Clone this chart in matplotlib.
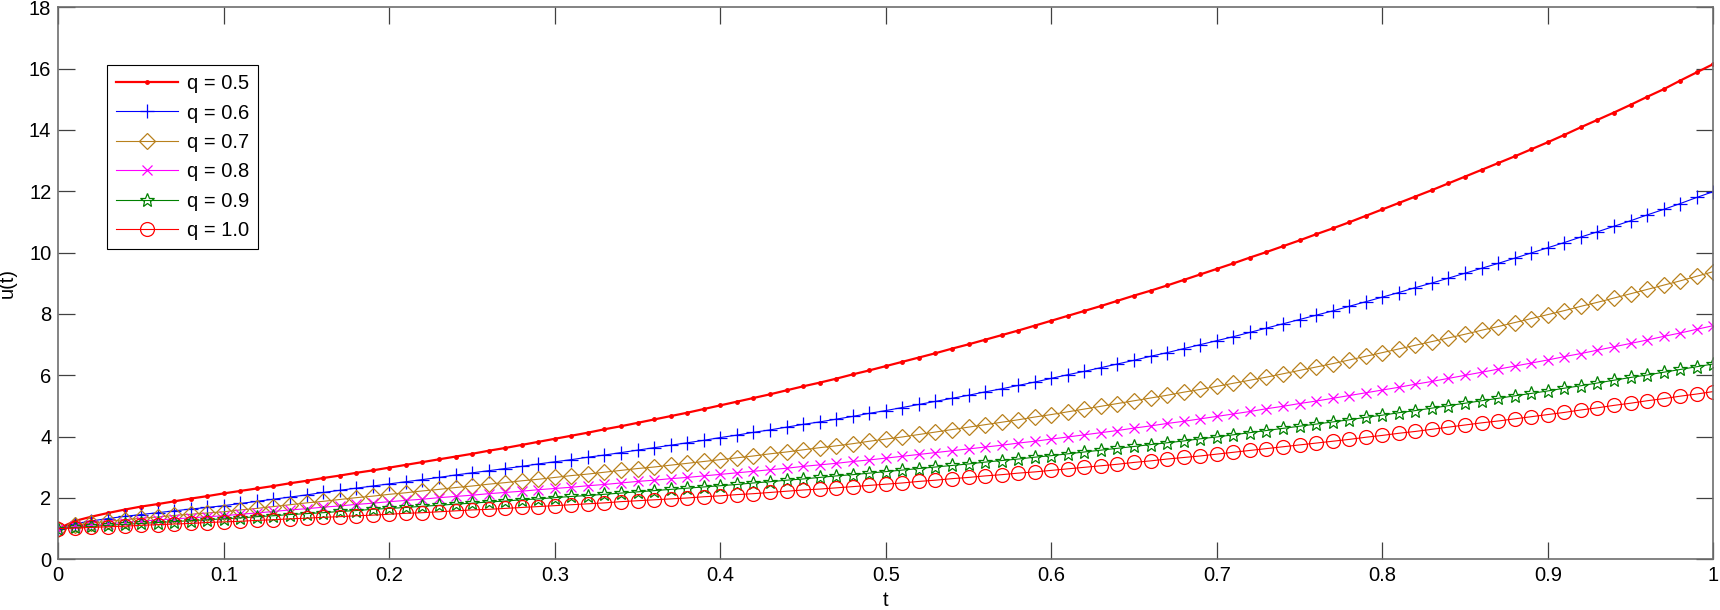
import numpy as np
import matplotlib.pyplot as plt

plt.rcParams['font.family'] = ['Liberation Sans', 'DejaVu Sans']

t = np.linspace(0, 1, 101)

# values, one per marker (step 0.01)
u_q05 = [1.00, 1.25, 1.39, 1.51, 1.62, 1.72, 1.80, 1.89, 1.98, 2.06,
         2.15, 2.23, 2.31, 2.39, 2.48, 2.56, 2.65, 2.73, 2.82, 2.90,
         2.99, 3.08, 3.17, 3.26, 3.35, 3.44, 3.54, 3.63, 3.73, 3.83,
         3.93, 4.03, 4.13, 4.24, 4.34, 4.45, 4.56, 4.67, 4.78, 4.90,
         5.02, 5.14, 5.26, 5.38, 5.51, 5.64, 5.76, 5.89, 6.03, 6.16,
         6.30, 6.44, 6.58, 6.72, 6.87, 7.01, 7.16, 7.31, 7.46, 7.62,
         7.78, 7.94, 8.10, 8.26, 8.43, 8.60, 8.76, 8.93, 9.11, 9.29,
         9.47, 9.65, 9.84, 10.02, 10.21, 10.40, 10.60, 10.79, 10.99, 11.20,
         11.41, 11.62, 11.83, 12.04, 12.26, 12.48, 12.70, 12.92, 13.14, 13.37,
         13.60, 13.84, 14.09, 14.33, 14.57, 14.82, 15.08, 15.33, 15.61, 15.88,
         16.15]
u_q06 = [1.00, 1.16, 1.25, 1.33, 1.40, 1.46, 1.52, 1.58, 1.64, 1.69,
         1.75, 1.82, 1.89, 1.96, 2.03, 2.10, 2.18, 2.25, 2.32, 2.39,
         2.46, 2.53, 2.60, 2.67, 2.75, 2.82, 2.89, 2.96, 3.03, 3.11,
         3.18, 3.25, 3.33, 3.40, 3.48, 3.56, 3.64, 3.72, 3.80, 3.88,
         3.97, 4.05, 4.14, 4.22, 4.31, 4.40, 4.48, 4.57, 4.66, 4.76,
         4.85, 4.95, 5.05, 5.15, 5.25, 5.35, 5.46, 5.56, 5.67, 5.78,
         5.90, 6.02, 6.13, 6.25, 6.37, 6.49, 6.62, 6.74, 6.87, 7.00,
         7.13, 7.26, 7.40, 7.54, 7.68, 7.82, 7.96, 8.10, 8.25, 8.40,
         8.55, 8.70, 8.86, 9.01, 9.17, 9.33, 9.49, 9.65, 9.82, 9.99,
         10.16, 10.33, 10.51, 10.68, 10.86, 11.04, 11.23, 11.41, 11.60, 11.80,
         11.99]
u_q07 = [1.00, 1.11, 1.18, 1.24, 1.29, 1.34, 1.38, 1.43, 1.47, 1.51,
         1.55, 1.61, 1.66, 1.72, 1.78, 1.84, 1.89, 1.95, 2.01, 2.06,
         2.12, 2.17, 2.23, 2.28, 2.34, 2.39, 2.45, 2.50, 2.56, 2.61,
         2.67, 2.73, 2.78, 2.84, 2.90, 2.96, 3.01, 3.07, 3.13, 3.19,
         3.25, 3.31, 3.37, 3.44, 3.50, 3.57, 3.64, 3.70, 3.77, 3.85,
         3.92, 3.99, 4.07, 4.15, 4.23, 4.31, 4.39, 4.47, 4.55, 4.64,
         4.72, 4.81, 4.90, 4.99, 5.08, 5.17, 5.26, 5.35, 5.45, 5.54,
         5.64, 5.74, 5.84, 5.94, 6.05, 6.16, 6.27, 6.38, 6.50, 6.62,
         6.74, 6.86, 6.98, 7.10, 7.22, 7.34, 7.47, 7.59, 7.72, 7.85,
         7.98, 8.11, 8.25, 8.38, 8.52, 8.66, 8.80, 8.94, 9.08, 9.23,
         9.38]
u_q08 = [1.00, 1.07, 1.12, 1.16, 1.20, 1.24, 1.28, 1.32, 1.35, 1.39,
         1.42, 1.47, 1.51, 1.56, 1.61, 1.65, 1.70, 1.74, 1.79, 1.83,
         1.88, 1.92, 1.96, 2.01, 2.05, 2.09, 2.14, 2.18, 2.22, 2.27,
         2.31, 2.35, 2.40, 2.44, 2.49, 2.54, 2.58, 2.63, 2.67, 2.72,
         2.77, 2.82, 2.87, 2.92, 2.97, 3.03, 3.08, 3.13, 3.19, 3.24,
         3.30, 3.36, 3.42, 3.48, 3.54, 3.60, 3.66, 3.72, 3.79, 3.85,
         3.92, 3.99, 4.06, 4.13, 4.20, 4.28, 4.35, 4.43, 4.50, 4.58,
         4.66, 4.74, 4.82, 4.91, 4.99, 5.08, 5.16, 5.25, 5.34, 5.43,
         5.52, 5.61, 5.71, 5.80, 5.90, 6.00, 6.10, 6.20, 6.30, 6.40,
         6.50, 6.61, 6.71, 6.82, 6.93, 7.04, 7.15, 7.27, 7.38, 7.50,
         7.62]
u_q09 = [1.00, 1.04, 1.07, 1.11, 1.14, 1.17, 1.20, 1.23, 1.26, 1.29,
         1.32, 1.35, 1.39, 1.42, 1.46, 1.49, 1.52, 1.56, 1.59, 1.63,
         1.66, 1.69, 1.73, 1.76, 1.80, 1.83, 1.87, 1.90, 1.94, 1.97,
         2.01, 2.05, 2.08, 2.12, 2.16, 2.20, 2.24, 2.28, 2.32, 2.36,
         2.40, 2.44, 2.49, 2.53, 2.58, 2.62, 2.67, 2.72, 2.76, 2.81,
         2.86, 2.91, 2.96, 3.01, 3.06, 3.11, 3.17, 3.22, 3.27, 3.33,
         3.38, 3.44, 3.50, 3.56, 3.62, 3.68, 3.74, 3.80, 3.86, 3.93,
         3.99, 4.06, 4.13, 4.20, 4.27, 4.34, 4.41, 4.48, 4.55, 4.63,
         4.70, 4.78, 4.85, 4.93, 5.01, 5.09, 5.17, 5.25, 5.33, 5.41,
         5.49, 5.58, 5.66, 5.75, 5.84, 5.93, 6.01, 6.10, 6.19, 6.28,
         6.37]
u_q10 = [1.00, 1.02, 1.04, 1.06, 1.08, 1.11, 1.13, 1.15, 1.17, 1.20,
         1.22, 1.24, 1.27, 1.29, 1.32, 1.34, 1.37, 1.39, 1.42, 1.44,
         1.47, 1.50, 1.52, 1.55, 1.58, 1.61, 1.63, 1.66, 1.69, 1.72,
         1.75, 1.78, 1.81, 1.84, 1.88, 1.91, 1.94, 1.97, 2.00, 2.04,
         2.07, 2.11, 2.14, 2.18, 2.22, 2.26, 2.29, 2.33, 2.37, 2.41,
         2.45, 2.49, 2.54, 2.58, 2.63, 2.67, 2.72, 2.76, 2.81, 2.85,
         2.90, 2.95, 3.00, 3.05, 3.10, 3.16, 3.21, 3.27, 3.32, 3.37,
         3.43, 3.49, 3.55, 3.61, 3.67, 3.73, 3.79, 3.85, 3.91, 3.98,
         4.04, 4.11, 4.17, 4.24, 4.31, 4.38, 4.45, 4.51, 4.58, 4.65,
         4.72, 4.79, 4.87, 4.94, 5.02, 5.09, 5.17, 5.24, 5.32, 5.39,
         5.47]

labels = ['q = 0.5', 'q = 0.6', 'q = 0.7', 'q = 0.8', 'q = 0.9', 'q = 1.0']

fig = plt.figure(figsize=(17.2, 6.1), dpi=100)
ax = fig.add_axes([0.0339, 0.0831, 0.9622, 0.9049])

ax.plot(t, u_q05, '.-', color='red', lw=1.6, ms=5, label=labels[0])
ax.plot(t, u_q06, '+-', color='blue', lw=0.8, ms=10, mew=0.9, label=labels[1])
ax.plot(t, u_q07, 'D-', color='#b8801c', lw=0.8, ms=8.5, mew=0.9, mfc='none', label=labels[2])
ax.plot(t, u_q08, 'x-', color='magenta', lw=0.8, ms=6.5, mew=0.9, label=labels[3])
ax.plot(t, u_q09, '*-', color='green', lw=0.8, ms=10, mew=0.9, mfc='none', label=labels[4])
ax.plot(t, u_q10, 'o-', color='red', lw=0.8, ms=10, mew=0.9, mfc='none', label=labels[5])

ax.set_xlim(0, 1)
ax.set_ylim(0, 18)
ax.set_xticks(np.arange(0, 1.01, 0.1))
ax.set_xticklabels(['0', '0.1', '0.2', '0.3', '0.4', '0.5', '0.6', '0.7', '0.8', '0.9', '1'])
ax.set_yticks(np.arange(0, 19, 2))

for s in ax.spines.values():
    s.set_color('#6e6e6e')
    s.set_linewidth(1.2)
ax.tick_params(direction='in', length=12, width=0.9, color='#404040',
               top=True, right=True, labelsize=14.5, pad=5)

ax.set_xlabel('t', fontsize=14.5)
ax.set_ylabel('u(t)', fontsize=14.5)
ax.xaxis.set_label_coords(0.5, -0.058)
ax.yaxis.set_label_coords(-0.025, 0.5)

leg = ax.legend(loc='upper left', bbox_to_anchor=(0.0294, 0.8955), numpoints=1,
                fontsize=14.5, handlelength=3.1, fancybox=False, framealpha=1,
                borderpad=0.45, labelspacing=0.52, handletextpad=0.4, borderaxespad=0)
leg.get_frame().set_edgecolor('black')
leg.get_frame().set_linewidth(0.8)

fig.savefig('out.png', dpi=100)
